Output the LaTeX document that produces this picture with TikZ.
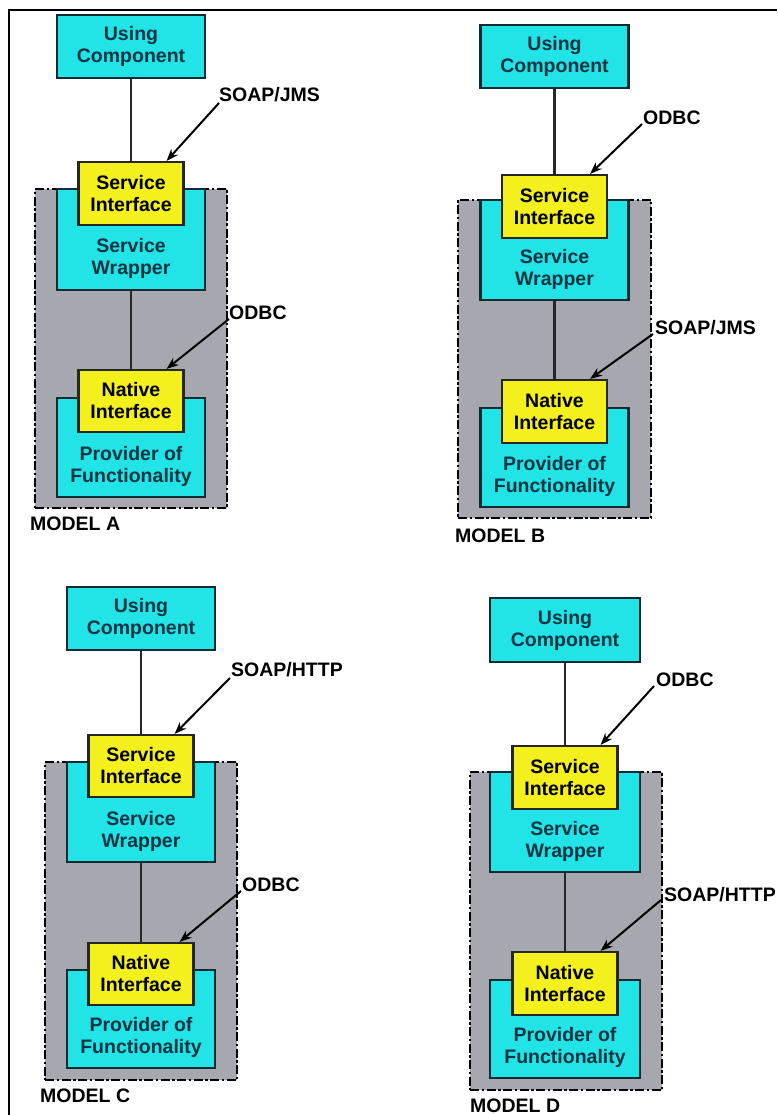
\documentclass[tikz,border=0pt]{standalone}
\usepackage{fontspec}
\setmainfont{Liberation Sans}
\usetikzlibrary{arrows.meta}
\definecolor{boxcyan}{HTML}{22E3E6}
\definecolor{boxyellow}{HTML}{F4F01E}
\definecolor{boxgray}{HTML}{A7A7AF}
\definecolor{darkteal}{HTML}{0C3442}
\definecolor{edgeteal}{HTML}{102A32}
\tikzset{
  every node/.style={font=\fontsize{19.5}{22}\selectfont\bfseries},
  cyanbox/.style={draw=edgeteal, line width=2.2pt, fill=boxcyan, minimum width=148pt, inner sep=0pt, align=center, text=darkteal},
  yelbox/.style={draw=black!85, line width=2.2pt, fill=boxyellow, minimum width=105pt, minimum height=63pt, inner sep=0pt, align=center, text=black},
  graybox/.style={draw=black, line width=2pt, fill=boxgray, dash pattern=on 9pt off 2.5pt on 2.5pt off 2.5pt, minimum width=192pt, minimum height=318pt, inner sep=0pt},
  boxtext/.style={align=center, text=darkteal, inner sep=0pt},
  conn/.style={line width=2.2pt, draw=black!85},
  callout/.style={line width=2pt, -{Stealth[length=12pt,width=9pt]}},
  lbl/.style={anchor=west, inner sep=0pt, text=black},
}
\begin{document}
\begin{tikzpicture}[x=1pt,y=-1pt]
\useasboundingbox (0,0) rectangle (777,1115);
\fill[white] (0,0) rectangle (777,1115);
\draw[line width=2.4pt] (777,10) -- (9,10) -- (9,1115);

% ---------------- MODEL A
\node[graybox] (aG) at (131,348.5) {};
\node[cyanbox, minimum height=101pt] (aSW) at (131,239.5) {};
\node[cyanbox, minimum height=99pt] (aPF) at (131,447.5) {};
\node[cyanbox, minimum height=63pt] (aUC) at (131,46.5) {Using\\Component};
\node[yelbox] (aSI) at (131,193.5) {Service\\Interface};
\node[yelbox, minimum height=62pt] (aNI) at (131,401) {Native\\Interface};
\node[boxtext] (aSWt) at ([yshift=33pt]aSW.south) {Service\\Wrapper};
\node[boxtext] (aPFt) at ([yshift=32pt]aPF.south) {Provider of\\Functionality};
\draw[conn] (aUC.south) -- (aSI.north);
\draw[conn] (aSW.south) -- (aNI.north);
\node[lbl] (aL1) at (219,95) {SOAP/JMS};
\node[lbl] (aL2) at (229,313) {ODBC};
\coordinate (aL1s) at (219,103);
\coordinate (aL2s) at (229,319);
\draw[callout] (aL1s) -- ([xshift=-18pt]aSI.north east);
\draw[callout] (aL2s) -- ([xshift=-18pt]aNI.north east);
\node[lbl] (aM) at (30,524) {MODEL A};

% ---------------- MODEL B
\node[graybox, minimum width=193pt] (bG) at (554.5,359) {};
\node[cyanbox, minimum height=100pt] (bSW) at (554.5,250) {};
\node[cyanbox, minimum height=99pt] (bPF) at (554.5,457.5) {};
\node[cyanbox, minimum height=63pt] (bUC) at (554.5,56.5) {Using\\Component};
\node[yelbox] (bSI) at (554.5,206.5) {Service\\Interface};
\node[yelbox] (bNI) at (554.5,411.5) {Native\\Interface};
\node[boxtext] (bSWt) at ([yshift=32pt]bSW.south) {Service\\Wrapper};
\node[boxtext] (bPFt) at ([yshift=32pt]bPF.south) {Provider of\\Functionality};
\draw[conn] (bUC.south) -- (bSI.north);
\draw[conn] (bSW.south) -- (bNI.north);
\node[lbl] (bL1) at (643,118) {ODBC};
\node[lbl] (bL2) at (655,328) {SOAP/JMS};
\coordinate (bL1s) at (642,124);
\coordinate (bL2s) at (653,334);
\draw[callout] (bL1s) -- ([xshift=-18pt]bSI.north east);
\draw[callout] (bL2s) -- ([xshift=-18pt]bNI.north east);
\node[lbl] (bM) at (455,536) {MODEL B};

% ---------------- MODEL C
\node[graybox] (cG) at (141,921) {};
\node[cyanbox, minimum height=100pt] (cSW) at (141,812) {};
\node[cyanbox, minimum height=98pt] (cPF) at (141,1019) {};
\node[cyanbox, minimum height=63pt] (cUC) at (141,618.5) {Using\\Component};
\node[yelbox, minimum height=62pt] (cSI) at (141,766) {Service\\Interface};
\node[yelbox, minimum height=62pt] (cNI) at (141,974) {Native\\Interface};
\node[boxtext] (cSWt) at ([yshift=32pt]cSW.south) {Service\\Wrapper};
\node[boxtext] (cPFt) at ([yshift=32pt]cPF.south) {Provider of\\Functionality};
\draw[conn] (cUC.south) -- (cSI.north);
\draw[conn] (cSW.south) -- (cNI.north);
\node[lbl] (cL1) at (231,670) {SOAP/HTTP};
\node[lbl] (cL2) at (242,885) {ODBC};
\coordinate (cL1s) at (230,678);
\coordinate (cL2s) at (241,891);
\draw[callout] (cL1s) -- ([xshift=-20pt]cSI.north east);
\draw[callout] (cL2s) -- ([xshift=-15pt]cNI.north east);
\node[lbl] (cM) at (40,1096) {MODEL C};

% ---------------- MODEL D
\node[graybox] (dG) at (566,931) {};
\node[cyanbox, minimum width=150pt, minimum height=100pt] (dSW) at (565,822) {};
\node[cyanbox, minimum width=150pt, minimum height=98pt] (dPF) at (565,1029) {};
\node[cyanbox, minimum width=150pt, minimum height=64pt] (dUC) at (565,630) {Using\\Component};
\node[yelbox] (dSI) at (565,777.5) {Service\\Interface};
\node[yelbox] (dNI) at (565,983.5) {Native\\Interface};
\node[boxtext] (dSWt) at ([yshift=32pt]dSW.south) {Service\\Wrapper};
\node[boxtext] (dPFt) at ([yshift=32pt]dPF.south) {Provider of\\Functionality};
\draw[conn] (dUC.south) -- (dSI.north);
\draw[conn] (dSW.south) -- (dNI.north);
\node[lbl] (dL1) at (656,680) {ODBC};
\node[lbl] (dL2) at (664,895) {SOAP/HTTP};
\coordinate (dL1s) at (654,686);
\coordinate (dL2s) at (661,900);
\draw[callout] (dL1s) -- ([xshift=-18pt]dSI.north east);
\draw[callout] (dL2s) -- ([xshift=-18pt]dNI.north east);
\node[lbl] (dM) at (470,1106) {MODEL D};
\end{tikzpicture}
\end{document}
